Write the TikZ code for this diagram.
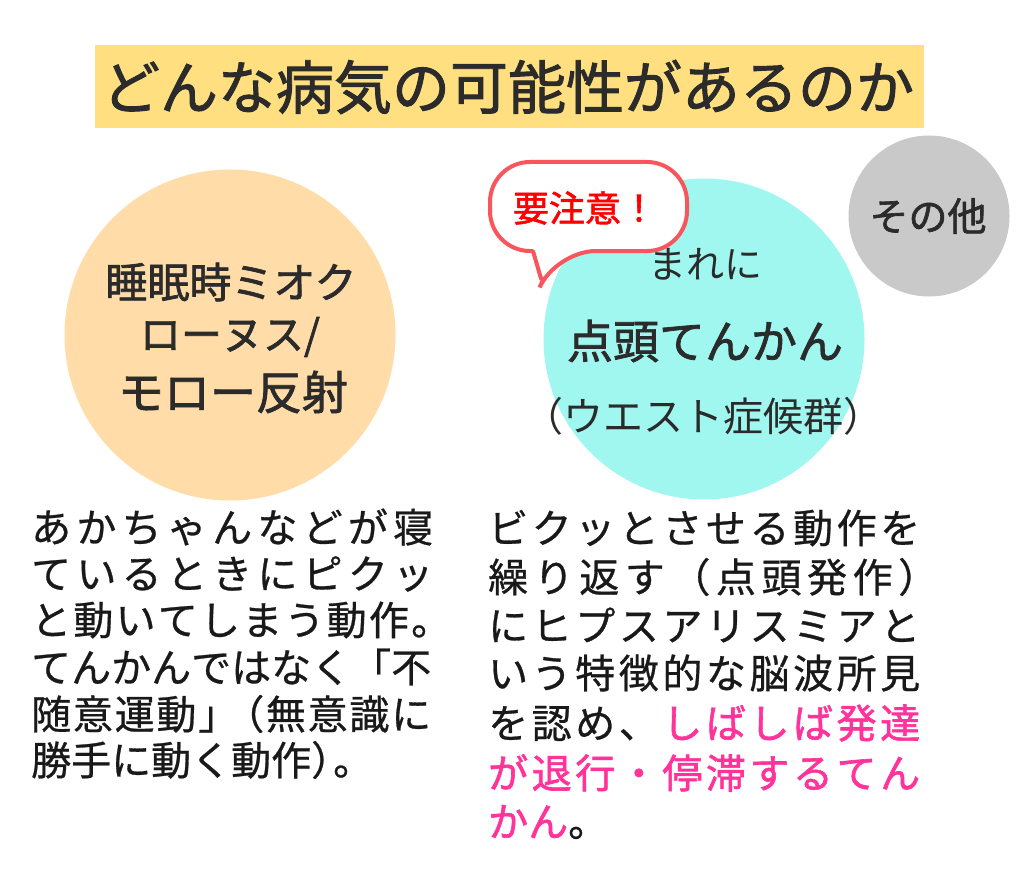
\documentclass[tikz,border=0pt]{standalone}
\usepackage{fontspec}
\setmainfont{Noto Sans CJK JP}
\newfontfamily\heavyfont[FakeBold=1.6]{Noto Sans CJK JP}
\newfontfamily\pinkfont[FakeBold=1.5]{Noto Sans CJK JP}
\newfontfamily\midfont[FakeBold=0.7]{Noto Sans CJK JP}
\usepackage{tikz}
\usetikzlibrary{positioning}
\definecolor{titlebg}{HTML}{FFDF80}
\definecolor{peach}{HTML}{FFDCA8}
\definecolor{aqua}{HTML}{9FF7F0}
\definecolor{greyc}{HTML}{C9C9C9}
\definecolor{alert}{HTML}{F8555C}
\definecolor{hotpink}{HTML}{FF3399}
\definecolor{ink}{HTML}{2B2B2B}
\tikzset{
  disc/.style={
    circle,
    inner sep=0pt,
  },
  inlabel/.style={
    text=ink,
    align=center,
    inner sep=0pt,
  },
  body/.style={
    font=\midfont\fontsize{40pt}{48pt}\selectfont,
    text=black!90,
    anchor=west,
    inner sep=0pt,
  },
}
\makeatletter
\newcommand{\spreadchars}[1]{\@tfor\onechar:=#1\do{\onechar\hfil}\unskip}
\makeatother
\newcommand{\fs}[1]{\fontsize{#1pt}{#1pt}\selectfont}
\newcommand{\lcol}[2][400pt]{\hbox to #1{\spreadchars{#2}}}
\newcommand{\rcol}[2][432pt]{\hbox to #1{\spreadchars{#2}}}
\begin{document}
\begin{tikzpicture}[x=1pt,y=-1pt]
	\useasboundingbox (0,0) rectangle (1024,885);

	% title
	\node[fill=titlebg,minimum width=829pt,minimum height=83pt,inner sep=0pt] (titlebox) at (509.5,86.5) {};
	\node[inlabel,font=\heavyfont\fs{58}] (title) at (508,87) {どんな病気の可能性があるのか};

	% circles
	\node[disc,fill=peach,minimum size=331pt] (left) at (230,335) {};
	\node[disc,fill=aqua,minimum size=321pt] (right) at (704,339) {};
	\node[disc,fill=greyc,minimum size=161pt] (other) at (929,216) {};
	\node[inlabel,font=\heavyfont\fs{39}] (otherlabel) at (928,216) {その他};

	% left circle text
	\node[inlabel,font=\heavyfont\fs{42}] (l1) at (231,282) {睡眠時ミオク};
	\node[inlabel,font=\heavyfont\fs{41}] (l2) at (230,337) {ローヌス/};
	\node[inlabel,font=\heavyfont\fs{46}] (l3) at (233,392) {モロー反射};

	% right circle text
	\node[inlabel,font=\fs{38}] (r1) at (705,264) {まれに};
	\node[inlabel,font=\heavyfont\fs{46}] (r2) at (705,341) {点頭てんかん};
	\node[inlabel,font=\fs{40}] (r3) at (703,416) {（ウエスト症候群）};

	% callout
	\draw[alert,line width=4pt,fill=white,rounded corners=40pt]
		(490,162) -- (687,162) -- (687,251) -- (556,251) [rounded corners=5pt] -- (542,282) [rounded corners=1pt] -- (533,251) [rounded corners=40pt] -- (490,251) -- cycle;
	\node[inlabel,font=\heavyfont\fs{36},text=red] (warn) at (585,208) {要注意！};

	% left text
	\node[body] (a1) at (31,527) {\lcol[402pt]{あかちゃんなどが寝}};
	\node[body] (a2) at (31,574) {\lcol[402pt]{ているときにピクッ}};
	\node[body] (a3) at (31,620) {\lcol[420pt]{と動いてしまう動作。}};
	\node[body] (a4) at (31,667) {\lcol{てんかんではなく「不}};
	\node[body] (a5) at (31,714) {\lcol{随意運動{」\kern-14pt（}無意識に}};
	\node[body] (a6) at (31,760) {勝手に動く動作）\kern-18pt。};

	% right text
	\node[body] (b1) at (488,528) {\rcol{ビクッとさせる動作を}};
	\node[body] (b2) at (488,577) {\rcol[450pt]{繰り返す（点頭発作）}};
	\node[body] (b3) at (488,625) {\rcol{にヒプスアリスミアと}};
	\node[body] (b4) at (488,673) {\rcol{いう特徴的な脳波所見}};
	\node[body] (b5) at (488,723) {\hbox to 432pt{\spreadchars{を認め、}\hfil{\pinkfont\color{hotpink}\spreadchars{しばしば発達}}}};
	\node[body,text=hotpink,font=\pinkfont\fs{40}] (b6) at (488,773) {\rcol{が退行・停滞するてん}};
	\node[body] (b7) at (488,822) {{\pinkfont\color{hotpink}かん}。};
\end{tikzpicture}
\end{document}
